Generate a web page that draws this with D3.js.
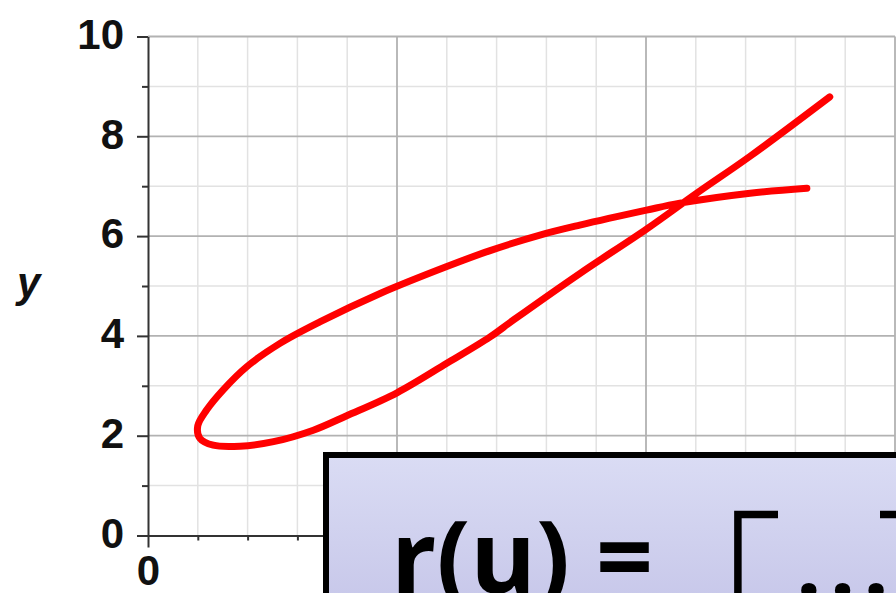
<!DOCTYPE html>
<html>
<head>
<meta charset="utf-8">
<title>r(u) curve</title>
<script src="https://cdn.jsdelivr.net/npm/d3@7"></script>
<style>
body { margin: 0; background: #fff; }
.tick_labels text { font-family: "Liberation Sans", Arial, sans-serif; font-weight: 700; font-size: 42px; fill: #111; }
</style>
</head>
<body>
<div id="figure_div"></div>
<script>

// curve, in path order (upper branch right->left, loop, lower branch left->right)
var curve_x = [13.23, 12.09, 10.68, 10.01, 8.67, 7.87, 6.87, 6.0, 4.66, 3.45, 2.65, 1.98, 1.51, 1.18, 1.0, 1.04, 1.31, 1.85, 2.52, 3.32, 3.99, 5.0, 6.0, 6.87, 7.34, 8.67, 10.01, 11.02, 12.09, 13.69]
var curve_y = [6.96, 6.86, 6.66, 6.52, 6.22, 6.02, 5.71, 5.39, 4.85, 4.28, 3.85, 3.38, 2.92, 2.52, 2.2, 1.95, 1.81, 1.79, 1.88, 2.11, 2.4, 2.86, 3.45, 3.98, 4.32, 5.25, 6.14, 6.86, 7.6, 8.79]

var y_ticks = [0, 2, 4, 6, 8, 10]
var y_minor = [1, 3, 5, 7, 9]
var x_labelled = [0]
var x_major = [5, 10, 15]
var x_minor = [1, 2, 3, 4, 6, 7, 8, 9, 11, 12, 13, 14]

var formula_text = "r(u) ="
var entry_text = "..."

var size = {width: 896, height: 593}

var svg = d3.select("#figure_div").append("svg")
    .attr("width", size.width)
    .attr("height", size.height)

var xScale = d3.scaleLinear().domain([0, 15]).range([148, 895])
var yScale = d3.scaleLinear().domain([0, 10]).range([535.5, 36.5])

// grid
var grid = svg.append("g")

grid.selectAll(".vminor").data(x_minor).enter().append("line")
    .attr("x1", function(d) { return xScale(d) }).attr("x2", function(d) { return xScale(d) })
    .attr("y1", yScale(10)).attr("y2", yScale(0))
    .attr("stroke", "#e2e2e2").attr("stroke-width", 1.5)

grid.selectAll(".hminor").data(y_minor).enter().append("line")
    .attr("y1", function(d) { return yScale(d) }).attr("y2", function(d) { return yScale(d) })
    .attr("x1", xScale(0)).attr("x2", xScale(15))
    .attr("stroke", "#e2e2e2").attr("stroke-width", 1.5)

grid.selectAll(".vmajor").data(x_major).enter().append("line")
    .attr("x1", function(d) { return xScale(d) }).attr("x2", function(d) { return xScale(d) })
    .attr("y1", yScale(10)).attr("y2", yScale(0))
    .attr("stroke", "#b2b2b2").attr("stroke-width", 1.8)

grid.selectAll(".hmajor").data(y_ticks.slice(1)).enter().append("line")
    .attr("y1", function(d) { return yScale(d) }).attr("y2", function(d) { return yScale(d) })
    .attr("x1", xScale(0)).attr("x2", xScale(15))
    .attr("stroke", "#b2b2b2").attr("stroke-width", 1.8)

// axes
var yAxis = svg.append("g")
    .attr("class", "tick_labels")
    .attr("transform", "translate(" + xScale(0) + ",0)")
    .call(d3.axisLeft(yScale).tickValues(y_ticks).tickSize(11).tickSizeOuter(0).tickPadding(13))

svg.append("g")
    .attr("transform", "translate(" + xScale(0) + ",0)")
    .call(d3.axisLeft(yScale).tickValues(y_minor).tickSize(6).tickFormat(""))
    .select(".domain").remove()

svg.append("g")
    .attr("class", "tick_labels")
    .attr("transform", "translate(0," + yScale(0) + ")")
    .call(d3.axisBottom(xScale).tickValues(x_labelled).tickSize(12).tickSizeOuter(0).tickPadding(7.5))

svg.append("g")
    .attr("transform", "translate(0," + yScale(0) + ")")
    .call(d3.axisBottom(xScale).tickValues(x_major).tickSize(12).tickFormat(""))
    .select(".domain").remove()

svg.append("g")
    .attr("transform", "translate(0," + yScale(0) + ")")
    .call(d3.axisBottom(xScale).tickValues(x_minor).tickSize(5).tickFormat(""))
    .select(".domain").remove()

yAxis.selectAll("text").attr("dy", "0.28em")

svg.selectAll(".domain").attr("stroke", "#333").attr("stroke-width", 2)
svg.selectAll(".tick line").attr("stroke", "#333").attr("stroke-width", 2)

svg.append("text")
    .text("y")
    .attr("x", 17)
    .attr("y", 297)
    .attr("font-family", "Liberation Sans, Arial, sans-serif")
    .attr("font-weight", 700)
    .attr("font-style", "italic")
    .attr("font-size", 42)
    .attr("fill", "#111")

// the red curve
var curve_points = curve_x.map(function(d, i) { return [d, curve_y[i]] })

var valueline = d3.line()
    .x(function(d) { return xScale(d[0]) })
    .y(function(d) { return yScale(d[1]) })
    .curve(d3.curveCatmullRom.alpha(0.5))

svg.append("path")
    .datum(curve_points)
    .attr("d", valueline)
    .attr("fill", "none")
    .attr("stroke", "#ff0000")
    .attr("stroke-width", 7)
    .attr("stroke-linecap", "round")
    .attr("stroke-linejoin", "round")

// formula box on top
var defs = svg.append("defs")
var grad = defs.append("linearGradient")
    .attr("id", "box_fill")
    .attr("x1", 0).attr("y1", 0).attr("x2", 0).attr("y2", 1)
grad.append("stop").attr("offset", "0%").attr("stop-color", "#dadcf4")
grad.append("stop").attr("offset", "100%").attr("stop-color", "#c6c6e9")

svg.append("rect")
    .attr("x", 326)
    .attr("y", 455)
    .attr("width", 620)
    .attr("height", 160)
    .attr("fill", "url(#box_fill)")
    .attr("stroke", "#000")
    .attr("stroke-width", 6)

svg.append("text")
    .text(formula_text)
    .attr("x", 391)
    .attr("y", 593)
    .attr("font-family", "Open Sans, sans-serif")
    .attr("font-weight", 700)
    .attr("font-size", 100)
    .attr("fill", "#000")

// matrix brackets
svg.append("path")
    .attr("d", "M778,514.5 H737.9 V640")
    .attr("fill", "none")
    .attr("stroke", "#000")
    .attr("stroke-width", 7.5)

svg.append("path")
    .attr("d", "M880,514.5 H920 V640")
    .attr("fill", "none")
    .attr("stroke", "#000")
    .attr("stroke-width", 7.5)

svg.append("text")
    .text(entry_text)
    .attr("x", 796)
    .attr("y", 597)
    .attr("letter-spacing", "8px")
    .attr("font-family", "Open Sans, sans-serif")
    .attr("font-weight", 700)
    .attr("font-size", 90)
    .attr("fill", "#000")

</script>
</body>
</html>
